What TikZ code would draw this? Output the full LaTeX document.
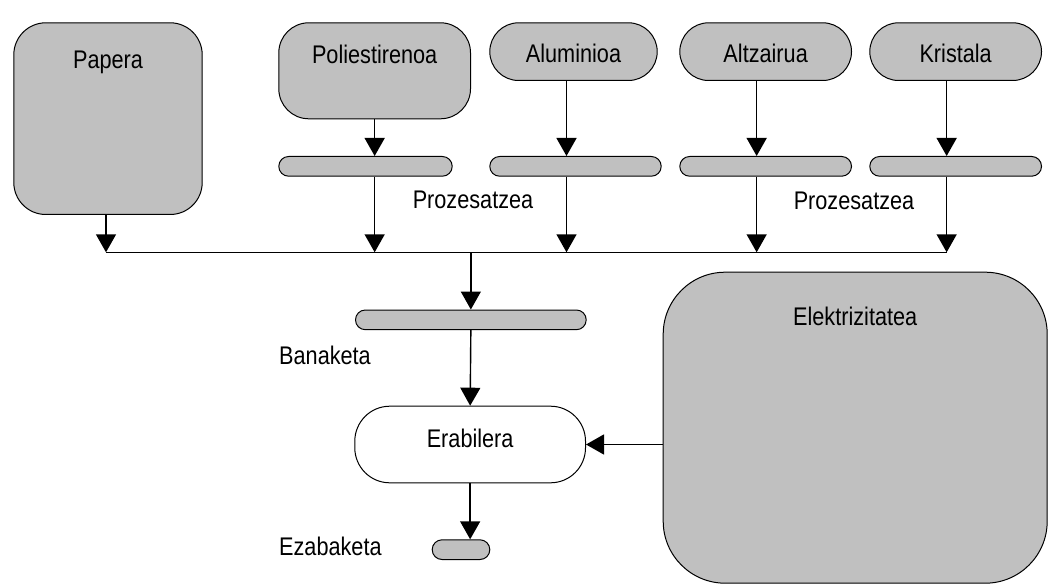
\documentclass[tikz,border=0pt]{standalone}
\usepackage{fontspec}
\setmainfont{Liberation Sans}[FakeStretch=0.85]
\usepackage{xcolor}
\usetikzlibrary{arrows.meta}
\definecolor{boxgray}{HTML}{C0C0C0}

\begin{document}
\begin{tikzpicture}[
  x=1pt, y=-1pt,
  every node/.style={font=\fontsize{25.5}{30}\selectfont, inner sep=0pt},
  matbox/.style={draw=black, fill=boxgray, line width=1pt, anchor=north west, align=center},
  procbar/.style={draw=black, fill=boxgray, line width=1pt, rounded corners=9.8pt, anchor=north west, minimum height=19.7pt},
  lbl/.style={anchor=base west},
  arrow/.style={-{Triangle[length=18pt,width=20pt]}, line width=1.4pt, black}
]
\useasboundingbox (0,0) rectangle (1048,585);

% Top row: materials
\node[matbox, rounded corners=32pt, minimum width=188.4pt, minimum height=191.7pt,
  text height=45.7pt, text depth=146pt] (pap) at (13.3,22.3) {Papera};
\node[matbox, rounded corners=30pt, minimum width=191.7pt, minimum height=96pt,
  text height=41pt, text depth=55pt] (poli) at (278.3,22.3) {Poliestirenoa};
\node[matbox, rounded corners=28.8pt, minimum width=167.4pt, minimum height=57.7pt,
  text height=39.4pt, text depth=18.3pt] (alu) at (489.3,22.3) {Aluminioa};
\node[matbox, rounded corners=28.8pt, minimum width=171.7pt, minimum height=57.7pt,
  text height=39.4pt, text depth=18.3pt] (altz) at (679.3,22.3) {Altzairua};
\node[matbox, rounded corners=28.8pt, minimum width=171.7pt, minimum height=57.7pt,
  text height=39.4pt, text depth=18.3pt] (krist) at (869.3,22.3) {Kristala};

% Processing bars
\node[procbar, minimum width=173.4pt] (poli-bar) at (278.3,156) {};
\node[procbar, minimum width=171.4pt] (alu-bar) at (489.3,156) {};
\node[procbar, minimum width=171.7pt] (altz-bar) at (679.3,156) {};
\node[procbar, minimum width=171.7pt] (krist-bar) at (869.3,156) {};
\node[anchor=base] (proz1) at (473,209) {Prozesatzea};
\node[anchor=base] (proz2) at (854,210) {Prozesatzea};

% Distribution, use, disposal
\node[procbar, minimum width=230.7pt] (ban-bar) at (355,309.5) {};
\node[lbl] (ban) at (279,364) {Banaketa};
\node[matbox, fill=white, rounded corners=35pt, minimum width=230.7pt, minimum height=76.6pt,
  text height=41pt, text depth=35.6pt] (erab) at (354.3,405.7) {Erabilera};
\node[procbar, minimum width=57.6pt] (eza-bar) at (431.7,539.3) {};
\node[lbl] (eza) at (279,555) {Ezabaketa};

% Electricity
\node[matbox, rounded corners=62pt, minimum width=384pt, minimum height=311pt,
  text height=53.3pt, text depth=257.7pt] (elek) at (662.7,271.7) {Elektrizitatea};

% Arrows
\coordinate (bus) at (0,252.3);
\coordinate (pap-top) at ([xshift=-2pt]pap.south);
\draw[arrow] (pap-top) -- (pap-top |- bus);
\foreach \m/\s in {poli/0, alu/-7, altz/-9, krist/-9} {
  \coordinate (\m-top) at ([xshift=\s pt]\m.south);
  \draw[arrow] (\m-top) -- (\m-top |- \m-bar.north);
  \draw[arrow] (\m-top |- \m-bar.south) -- (\m-top |- bus);
}
\draw[line width=1.4pt] (pap-top |- bus) -- (krist-top |- bus);
\draw[arrow] (ban-bar.north |- bus) -- (ban-bar.north);
\draw[arrow] (ban-bar.south) -- (erab.north);
\draw[arrow] (erab.south) -- (erab.south |- eza-bar.north);
\draw[arrow] (elek.west |- erab.east) -- (erab.east);

\end{tikzpicture}
\end{document}
